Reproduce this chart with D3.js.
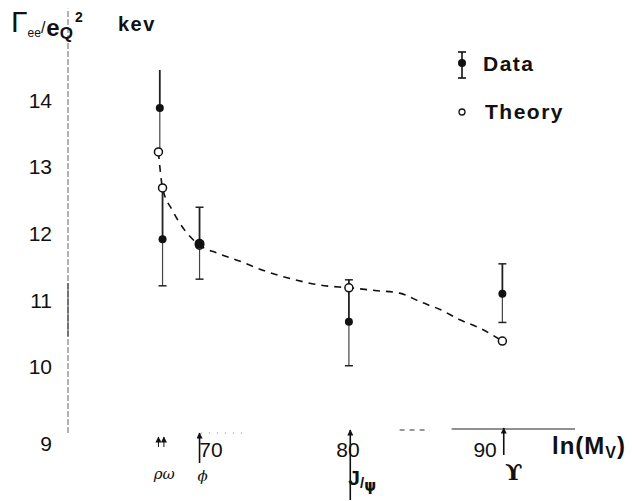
<!DOCTYPE html>
<html>
<head>
<meta charset="utf-8">
<script src="https://cdn.jsdelivr.net/npm/d3@7"></script>
<style>
  body { margin: 0; background: #fff; }
  text { font-family: "Liberation Sans", Arial, sans-serif; fill: #111; }
</style>
</head>
<body>
<div id="chart"></div>
<script>
const w = 632;
const h = 501;

// values: x = ln(M_V), y = Gamma_ee / e_Q^2 (keV)
const dataLnM = [6.63, 6.65, 6.92, 8.01, 9.13];
const dataVal = [13.88, 11.91, 11.84, 10.67, 11.09];
const dataLo  = [13.22, 11.21, 11.31, 10.01, 10.66];
const dataHi  = [14.45, 12.68, 12.39, 11.30, 11.54];

const theoryLnM = [6.62, 6.65, 6.92, 8.01, 9.13];
const theoryVal = [13.22, 12.68, 11.82, 11.18, 10.38];

// dashed theory curve
const curveLnM = [6.62, 6.65, 6.72, 6.81, 6.92, 7.05, 7.2, 7.4, 7.6, 7.8, 8.02, 8.2, 8.38, 8.53, 8.68, 8.82, 8.97, 9.13];
const curveVal = [13.22, 12.68, 12.35, 12.05, 11.82, 11.70, 11.59, 11.43, 11.31, 11.22, 11.18, 11.14, 11.10, 10.97, 10.85, 10.70, 10.57, 10.38];

const yTicks = [9, 10, 11, 12, 13, 14];
const xTicks = [7, 8, 9];
const xTickLabels = ["70", "80", "90"];

// resonance markers under the axis
const arrowLnM = [6.62, 6.66, 6.92, 8.02, 9.14];
const particleLnM = [6.64, 6.92, 8.02, 9.14];
const particleNames = ["ρω", "ϕ", "J/ψ", "ϒ"];

const x = d3.scaleLinear().domain([5.96, 9.66]).range([68, 575]);
const y = d3.scaleLinear().domain([9, 14]).range([433, 100]);

const svg = d3.select("#chart")
    .append("svg")
    .attr("width", w)
    .attr("height", h);

svg.append("defs").append("marker")
    .attr("id", "head")
    .attr("viewBox", "0 0 10 10")
    .attr("refX", 9).attr("refY", 5)
    .attr("markerWidth", 8).attr("markerHeight", 6)
    .attr("markerUnits", "userSpaceOnUse")
    .attr("orient", "auto")
    .append("path")
    .attr("d", "M0,0 L10,5 L0,10 Z")
    .attr("fill", "#111");

// y axis line (broken look of the scan)
svg.append("line")
    .attr("x1", x(5.96)).attr("x2", x(5.96))
    .attr("y1", y(9)).attr("y2", y(15.37))
    .attr("stroke", "#666").attr("stroke-width", 1)
    .attr("stroke-dasharray", "6,2");
svg.append("line")
    .attr("x1", x(5.96)).attr("x2", x(5.96))
    .attr("y1", y(11.25)).attr("y2", y(10.45))
    .attr("stroke", "#333").attr("stroke-width", 1);

const yAxis = svg.append("g")
    .attr("transform", "translate(" + x(5.96) + ",0)")
    .call(d3.axisLeft(y).tickValues(yTicks).tickSize(0).tickPadding(16).tickFormat(d3.format("d")));
yAxis.select(".domain").remove();
yAxis.selectAll("text")
    .style("font-size", "21px")
    .attr("dy", d => d === 9 ? "0.85em" : "0.35em");

// x axis line, partly faded as in the scan
svg.append("line")
    .attr("x1", x(6.93)).attr("x2", x(7.25))
    .attr("y1", y(9)).attr("y2", y(9))
    .attr("stroke", "#888").attr("stroke-width", 1)
    .attr("stroke-dasharray", "1,7");
svg.append("line")
    .attr("x1", x(8.38)).attr("x2", x(8.6))
    .attr("y1", y(9) - 3).attr("y2", y(9) - 3)
    .attr("stroke", "#333").attr("stroke-width", 1)
    .attr("stroke-dasharray", "5,5");
svg.append("line")
    .attr("x1", x(8.76)).attr("x2", x(9.66))
    .attr("y1", y(9) - 4).attr("y2", y(9) - 4)
    .attr("stroke", "#222").attr("stroke-width", 1);

const xAxis = svg.append("g")
    .attr("transform", "translate(0," + y(9) + ")")
    .call(d3.axisBottom(x).tickValues(xTicks).tickSize(0).tickPadding(9)
        .tickFormat((d, i) => xTickLabels[i]));
xAxis.select(".domain").remove();
xAxis.selectAll("text").style("font-size", "21px");

// arrows: pixel offsets below the axis for each marker
const arrowSpan = [[14, 4], [14, 4], [30, 0], [67, -3], [22, -5]];
svg.selectAll(".arrow")
    .data(arrowLnM)
    .enter()
    .append("line")
    .attr("class", "arrow")
    .attr("x1", d => x(d)).attr("x2", d => x(d))
    .attr("y1", (d, i) => y(9) + arrowSpan[i][0])
    .attr("y2", (d, i) => y(9) + arrowSpan[i][1])
    .attr("stroke", "#111")
    .attr("stroke-width", (d, i) => i < 2 ? 1 : 1.6)
    .attr("marker-end", "url(#head)");

const labelShift = [[3, 46, "15px", "italic", "normal"], [3, 48, "15px", "italic", "normal"], [0, 0, "", "", ""], [10, 47, "23px", "normal", "bold"]];
particleNames.forEach(function(name, i) {
    if (name === "J/ψ") {
        const t = svg.append("text")
            .attr("x", x(particleLnM[i]) - 2)
            .attr("y", y(9) + 52)
            .style("font-weight", "bold");
        t.append("tspan").text("J").style("font-size", "21px");
        t.append("tspan").text("/").style("font-size", "15px").attr("dy", 3);
        t.append("tspan").text("ψ").style("font-size", "15px").attr("dy", 3)
            .style("font-family", "DejaVu Sans");
        return;
    }
    svg.append("text")
        .attr("x", x(particleLnM[i]) + labelShift[i][0])
        .attr("y", y(9) + labelShift[i][1])
        .attr("text-anchor", "middle")
        .style("font-family", "DejaVu Serif")
        .style("font-size", labelShift[i][2])
        .style("font-style", labelShift[i][3])
        .style("font-weight", labelShift[i][4])
        .text(name);
});

// x title ln(M_V)
const xt = svg.append("text")
    .attr("x", 552).attr("y", 454)
    .style("font-weight", "bold").style("font-size", "24px")
    .style("letter-spacing", "1px");
xt.append("tspan").text("ln(M");
xt.append("tspan").text("V").style("font-size", "16px").attr("dy", 4);
xt.append("tspan").text(")").attr("dy", -4);

// y title
const yt = svg.append("text").attr("x", 11).attr("y", 32);
yt.append("tspan").text("Γ").style("font-size", "30px");
yt.append("tspan").text("ee").style("font-size", "12px").attr("dy", 5);
yt.append("tspan").text("/").style("font-size", "16px").attr("dy", -4);
yt.append("tspan").text("e").style("font-size", "24px").style("font-weight", "bold").attr("dx", 1).attr("dy", 3);
yt.append("tspan").text("Q").style("font-size", "17px").style("font-weight", "bold").attr("dy", 3);
yt.append("tspan").text("2").style("font-size", "14px").style("font-weight", "bold").attr("dx", 2).attr("dy", -17);
svg.append("text")
    .attr("x", 118).attr("y", 31)
    .style("font-size", "20px").style("font-weight", "bold")
    .style("letter-spacing", "1.5px")
    .text("kev");

// theory curve
const line = d3.line()
    .x(d => x(d[0]))
    .y(d => y(d[1]))
    .curve(d3.curveMonotoneX);
svg.append("path")
    .datum(d3.zip(curveLnM, curveVal))
    .attr("d", line)
    .attr("fill", "none")
    .attr("stroke", "#111")
    .attr("stroke-width", 1.6)
    .attr("stroke-dasharray", "7,6");

// data error bars
const bars = svg.selectAll(".bar")
    .data(d3.range(dataLnM.length))
    .enter()
    .append("g")
    .attr("class", "bar");
bars.append("line")
    .attr("x1", i => x(dataLnM[i])).attr("x2", i => x(dataLnM[i]))
    .attr("y1", i => y(dataHi[i])).attr("y2", i => y(dataVal[i]))
    .attr("stroke", "#222").attr("stroke-width", 1.8);
bars.append("line")
    .attr("x1", i => x(dataLnM[i])).attr("x2", i => x(dataLnM[i]))
    .attr("y1", i => y(dataVal[i])).attr("y2", i => y(dataLo[i]))
    .attr("stroke", "#444").attr("stroke-width", 1.2);
bars.filter(i => i > 0).selectAll(".cap")
    .data(i => [[i, dataHi[i]], [i, dataLo[i]]])
    .enter()
    .append("line")
    .attr("x1", d => x(dataLnM[d[0]]) - 4).attr("x2", d => x(dataLnM[d[0]]) + 4)
    .attr("y1", d => y(d[1])).attr("y2", d => y(d[1]))
    .attr("stroke", "#222").attr("stroke-width", 1.5);

// theory points
svg.selectAll(".theory")
    .data(d3.zip(theoryLnM, theoryVal))
    .enter()
    .append("circle")
    .attr("cx", d => x(d[0]))
    .attr("cy", d => y(d[1]))
    .attr("r", 4)
    .attr("fill", "#fff")
    .attr("stroke", "#111")
    .attr("stroke-width", 1.5);

// data points
svg.selectAll(".dot")
    .data(d3.zip(dataLnM, dataVal))
    .enter()
    .append("circle")
    .attr("cx", d => x(d[0]))
    .attr("cy", d => y(d[1]))
    .attr("r", (d, i) => i === 2 ? 5 : 4)
    .attr("fill", "#111");

// legend
const lg = svg.append("g").attr("transform", "translate(462,0)");
lg.append("line").attr("x1", 0).attr("x2", 0).attr("y1", 52).attr("y2", 78)
    .attr("stroke", "#111").attr("stroke-width", 1.6);
lg.selectAll(".lcap").data([52, 78]).enter().append("line")
    .attr("x1", -4).attr("x2", 4).attr("y1", d => d).attr("y2", d => d)
    .attr("stroke", "#111").attr("stroke-width", 1.6);
lg.append("circle").attr("cx", 0).attr("cy", 63).attr("r", 4).attr("fill", "#111");
lg.append("text").attr("x", 21).attr("y", 71)
    .style("font-size", "21px").style("font-weight", "bold").style("letter-spacing", "1.5px")
    .text("Data");
lg.append("circle").attr("cx", 0).attr("cy", 112).attr("r", 3)
    .attr("fill", "#fff").attr("stroke", "#111").attr("stroke-width", 1.3);
lg.append("text").attr("x", 23).attr("y", 119)
    .style("font-size", "21px").style("font-weight", "bold").style("letter-spacing", "1.5px")
    .text("Theory");
</script>
</body>
</html>
